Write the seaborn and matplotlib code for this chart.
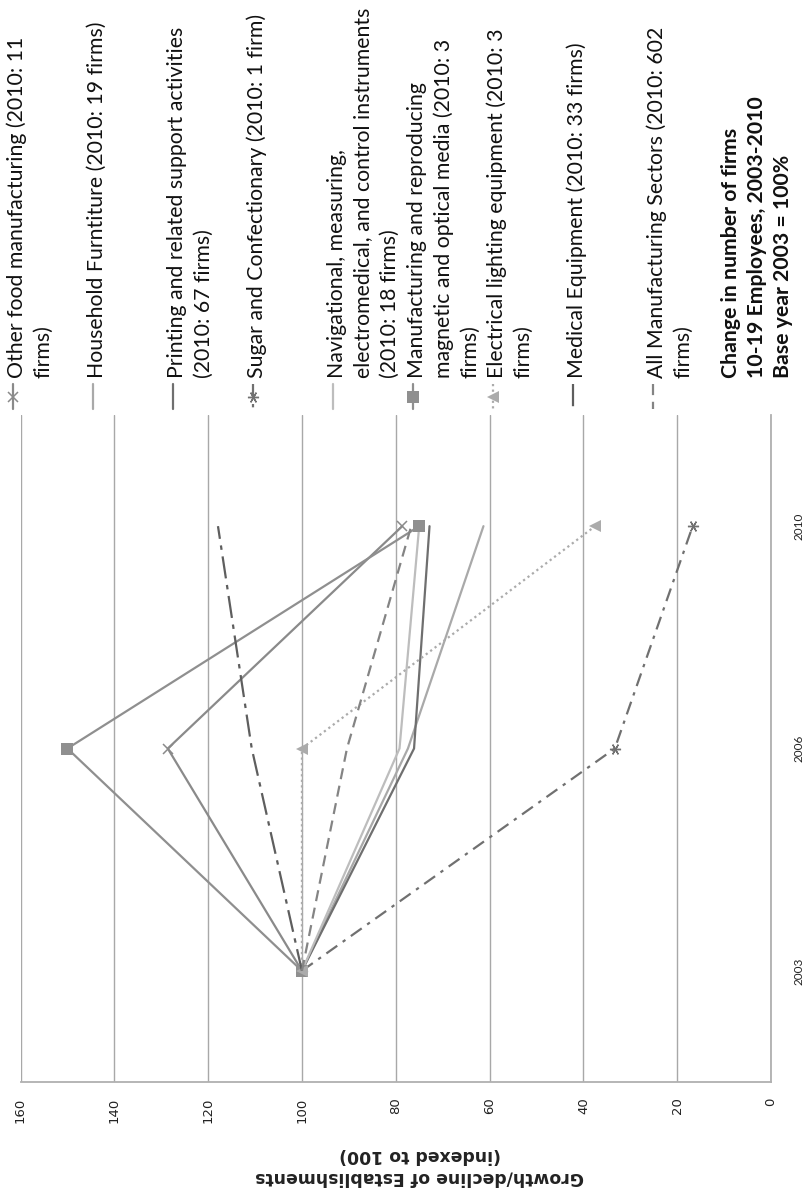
import matplotlib
matplotlib.use("Agg")
import matplotlib.pyplot as plt
from matplotlib.lines import Line2D
import seaborn as sns
import pandas as pd

# ---------------- data ----------------
years = ["2003", "2006", "2010"]
other_food = [100, 128.6, 78.6]
household = [100, 77.4, 61.3]
printing = [100, 76.1, 72.8]
sugar = [100, 33.3, 16.7]
navigational = [100, 79.2, 75.0]
magnetic = [100, 150.0, 75.0]
electrical = [100, 100.0, 37.5]
medical = [100, 110.7, 117.9]
all_mfg = [100, 90.4, 76.7]

legend_lines = [
    ["Other food manufacturing (2010: 11", "firms)"],
    ["Household Furntiture (2010: 19 firms)"],
    ["Printing and related support activities", "(2010: 67 firms)"],
    ["Sugar and Confectionary (2010: 1 firm)"],
    ["Navigational, measuring,", "electromedical, and control instruments", "(2010: 18 firms)"],
    ["Manufacturing and reproducing", "magnetic and optical media (2010: 3", "firms)"],
    ["Electrical lighting equipment (2010: 3", "firms)"],
    ["Medical Equipment (2010: 33 firms)"],
    ["All Manufacturing Sectors (2010: 602", "firms)"],
]
legend_title = ["Change in number of firms", "10-19 Employees, 2003-2010", "Base year 2003 = 100%"]
value_ticks = [0, 20, 40, 60, 80, 100, 120, 140, 160]
axis_title = "Growth/decline of Establishments\n(indexed to 100)"

series_values = [other_food, household, printing, sugar, navigational,
                 magnetic, electrical, medical, all_mfg]

# styles: color, linestyle, marker, markersize
styles = [
    dict(color="#8a8a8a", ls="-", marker="x", ms=7, mew=1.1),
    dict(color="#a9a9a9", ls="-", marker=None, ms=0, mew=0),
    dict(color="#6f6f6f", ls="-", marker=None, ms=0, mew=0),
    dict(color="#707070", ls=(0, (6, 3, 1.5, 3)), marker=(6, 2, 90), ms=8, mew=1.0),
    dict(color="#bdbdbd", ls="-", marker=None, ms=0, mew=0),
    dict(color="#8f8f8f", ls="-", marker="s", ms=8, mew=0),
    dict(color="#ababab", ls=(0, (1, 1.5)), marker="<", ms=8, mew=0),
    dict(color="#5e5e5e", ls=(0, (10, 3, 2, 3)), marker=None, ms=0, mew=0),
    dict(color="#848484", ls=(0, (5, 3)), marker=None, ms=0, mew=0),
]

W, H = 806, 1191
sns.set_theme(style="white")
plt.rcParams["font.family"] = ["Lato", "DejaVu Sans"]

fig = plt.figure(figsize=(W / 100, H / 100), dpi=100)

def fx(px):
    return px / W

def fy(py):
    return 1 - py / H

left, right, top, bottom = 20.5, 771, 415, 1082
ax = fig.add_axes([fx(left), fy(bottom), fx(right) - fx(left), (bottom - top) / H])

pos = list(range(len(years)))
for vals, st in zip(series_values, styles):
    df = pd.DataFrame({"value": vals, "pos": pos})
    kw = dict(color=st["color"], linestyle=st["ls"], linewidth=1.6)
    if st["marker"] is not None:
        kw.update(marker=st["marker"], markersize=st["ms"], markeredgewidth=st["mew"],
                  markeredgecolor=st["color"], markerfacecolor=st["color"])
    sns.lineplot(data=df, x="value", y="pos", orient="y", sort=False,
                 errorbar=None, ax=ax, **kw)

ax.set_xlim(160, 0)
ax.set_ylim(-0.5, len(years) - 0.5)
ax.set_xticks(value_ticks)
ax.set_xticklabels([str(v) for v in value_ticks], rotation=90, va="top", ha="center",
                   fontsize=9.5, family="DejaVu Sans", color="#222222")
ax.set_yticks(pos)
ax.set_yticklabels(years, rotation=90, va="center", ha="left", fontsize=8.5,
                   family="Lato", color="#222222")
ax.yaxis.tick_right()
ax.tick_params(axis="x", length=0, pad=11)
ax.tick_params(axis="y", length=0, pad=16)
ax.set_xlabel("")
ax.set_ylabel("")
ax.grid(axis="x", color="#a8a8a8", linewidth=1.0)
ax.grid(axis="y", visible=False)
for side in ["top", "left"]:
    ax.spines[side].set_visible(False)
for side in ["bottom", "right"]:
    ax.spines[side].set_color("#b0b0b0")
    ax.spines[side].set_linewidth(1.3)

# axis title (upside down, as in the rotated chart)
fig.text(fx(420), fy(1166), axis_title, rotation=180, ha="center", va="center",
         multialignment="center", fontsize=12.4, fontweight="bold", linespacing=1.35,
         family="DejaVu Sans", color="#222222")

# legend (rotated)
fs_leg = 15.3
line_step = 26.5
for i, (lines, st) in enumerate(zip(legend_lines, styles)):
    hx = 13 + 80 * i
    h = Line2D([fx(hx), fx(hx)], [fy(384), fy(409)], transform=fig.transFigure,
               color=st["color"], linestyle=st["ls"], linewidth=1.6)
    fig.add_artist(h)
    if st["marker"] is not None:
        m = Line2D([fx(hx)], [fy(397)], transform=fig.transFigure, linestyle="none",
                   marker=st["marker"], markersize=st["ms"], markeredgewidth=st["mew"],
                   color=st["color"], markeredgecolor=st["color"], markerfacecolor=st["color"])
        fig.add_artist(m)
    for k, t in enumerate(lines):
        fig.text(fx(hx + 4 + line_step * k), fy(378), t, rotation=90, rotation_mode="anchor",
                 ha="left", va="center", fontsize=fs_leg, color="#111111")

for k, t in enumerate(legend_title):
    fig.text(fx(731 + 26 * k), fy(378), t, rotation=90, rotation_mode="anchor",
             ha="left", va="center", fontsize=fs_leg, fontweight="bold", color="#111111")

fig.savefig("out.png", dpi=100)
